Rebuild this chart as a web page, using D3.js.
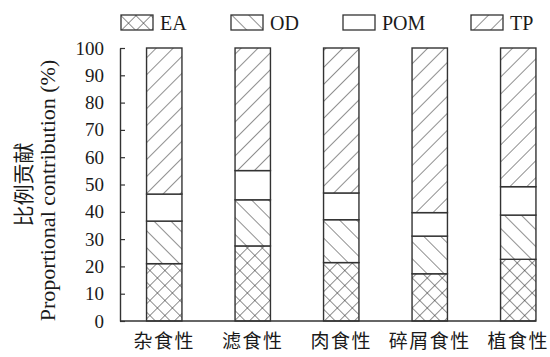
<!DOCTYPE html>
<html>
<head>
<meta charset="utf-8">
<script src="https://cdn.jsdelivr.net/npm/d3@7/dist/d3.min.js"></script>
<style>
  html, body { margin: 0; padding: 0; background: #fff; }
  svg { display: block; }
  text { fill: #1a1a1a; }
</style>
</head>
<body>
<svg id="chart" width="550" height="357"></svg>
<script>
// Feeding groups and the share (%) of each organic-matter source
const categories = ["杂食性", "滤食性", "肉食性", "碎屑食性", "植食性"];
const seriesNames = ["EA", "OD", "POM", "TP"];
const EA  = [21.0, 27.5, 21.4, 17.3, 22.6];
const OD  = [15.6, 16.9, 15.7, 13.8, 16.2];
const POM = [9.9, 10.7, 9.8, 8.6, 10.4];
const TP  = [53.5, 44.9, 53.1, 60.3, 50.8];
const yTicks = [0, 10, 20, 30, 40, 50, 60, 70, 80, 90, 100];

const seriesValues = { EA, OD, POM, TP };
const rows = categories.map((c, i) => {
  const r = { cat: c };
  seriesNames.forEach(s => { r[s] = seriesValues[s][i]; });
  return r;
});
const stacked = d3.stack().keys(seriesNames)(rows);

const svg = d3.select("#chart");
const ink = "#333";
const serif = "'Liberation Serif', 'Times New Roman', serif";
const cjk = "'Noto Sans CJK SC', 'Noto Sans CJK JP', sans-serif";

const plot = { left: 120, top: 48, bottom: 321, step: 88.5 };

const x = d3.scaleBand()
  .domain(categories)
  .range([plot.left, plot.left + plot.step * categories.length])
  .paddingInner(0.6)
  .paddingOuter(0.3);

const y = d3.scaleLinear().domain([0, 100]).range([plot.bottom, plot.top]);

// Hatch fills
const defs = svg.append("defs");
function hatch(id, angles, gap) {
  const p = defs.append("pattern")
    .attr("id", id)
    .attr("patternUnits", "userSpaceOnUse")
    .attr("width", gap).attr("height", gap)
    .attr("patternTransform", `rotate(${angles[0]})`);
  p.append("rect").attr("width", gap).attr("height", gap).attr("fill", "#fff");
  p.append("line").attr("x1", 0).attr("y1", 0).attr("x2", 0).attr("y2", gap)
    .attr("stroke", "#333").attr("stroke-width", 1.1);
  if (angles.length > 1) {
    p.append("line").attr("x1", 0).attr("y1", 0).attr("x2", gap).attr("y2", 0)
      .attr("stroke", "#333").attr("stroke-width", 1.1);
  }
}
hatch("pat-EA", [45, -45], 10.6);
hatch("pat-OD", [-45], 12);
hatch("pat-TP", [45], 12);
const fillFor = k => k === "POM" ? "#fff" : `url(#pat-${k})`;

// Bars
svg.append("g")
  .selectAll("g")
  .data(stacked)
  .join("g")
  .attr("fill", d => fillFor(d.key))
  .selectAll("rect")
  .data(d => d)
  .join("rect")
  .attr("x", d => x(d.data.cat))
  .attr("width", x.bandwidth())
  .attr("y", d => y(d[1]))
  .attr("height", d => y(d[0]) - y(d[1]))
  .attr("stroke", ink)
  .attr("stroke-width", 1.4);

// Y axis (ticks pointing into the plot)
const yAxis = svg.append("g")
  .attr("transform", `translate(${plot.left},0)`)
  .call(d3.axisLeft(y).tickValues(yTicks).tickSize(-5).tickPadding(16).tickSizeOuter(0));
yAxis.select(".domain").attr("stroke", ink).attr("stroke-width", 1.4);
yAxis.selectAll(".tick line").attr("stroke", ink).attr("stroke-width", 1.2);
yAxis.selectAll(".tick text")
  .attr("fill", "#1a1a1a")
  .style("font-family", serif)
  .style("font-size", "19px");

// X axis baseline and category labels
const last = categories[categories.length - 1];
svg.append("line")
  .attr("x1", plot.left).attr("x2", x(last) + x.bandwidth())
  .attr("y1", y(0)).attr("y2", y(0))
  .attr("stroke", ink).attr("stroke-width", 1.4);

svg.append("g")
  .selectAll("text")
  .data(categories)
  .join("text")
  .attr("x", d => x(d) + x.bandwidth() / 2)
  .attr("y", y(0) + 27)
  .attr("text-anchor", "middle")
  .style("font-family", cjk)
  .style("font-size", "19px")
  .style("letter-spacing", "1.5px")
  .text(d => d);

// Y axis title
const ty = (plot.top + plot.bottom) / 2;
svg.append("text")
  .attr("transform", `translate(22,${ty}) rotate(-90)`)
  .attr("text-anchor", "middle")
  .attr("dominant-baseline", "central")
  .style("font-family", cjk)
  .style("font-size", "21px")
  .text("比例贡献");
svg.append("text")
  .attr("transform", `translate(47,${ty + 6}) rotate(-90)`)
  .attr("text-anchor", "middle")
  .attr("dominant-baseline", "central")
  .style("font-family", serif)
  .style("font-size", "22px")
  .text("Proportional contribution (%)");

// Legend
const legendX = [121, 231, 343, 471];
const legend = svg.append("g")
  .selectAll("g")
  .data(seriesNames)
  .join("g")
  .attr("transform", (d, i) => `translate(${legendX[i]},15)`);
legend.append("rect")
  .attr("width", 32).attr("height", 15)
  .attr("fill", d => fillFor(d))
  .attr("stroke", ink).attr("stroke-width", 1.3);
legend.append("text")
  .attr("x", 39).attr("y", 8)
  .attr("dominant-baseline", "central")
  .style("font-family", serif)
  .style("font-size", "20px")
  .text(d => d);
</script>
</body>
</html>
